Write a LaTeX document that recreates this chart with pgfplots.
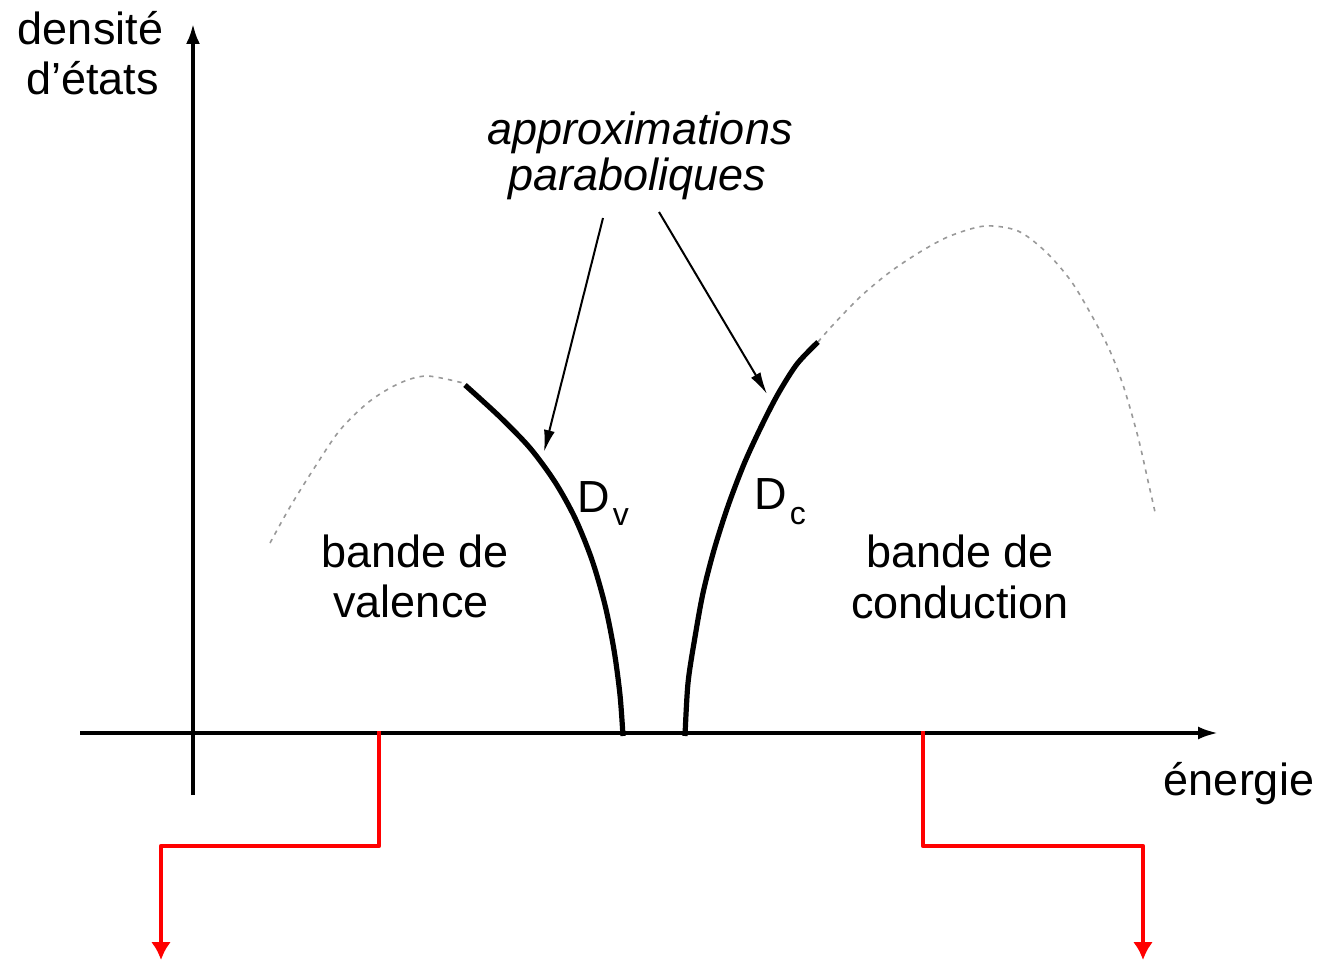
\documentclass[border=0pt]{standalone}
\usepackage{fontspec}
\setmainfont{Liberation Sans}
\usepackage{pgfplots}
\pgfplotsset{compat=1.18}
\usetikzlibrary{arrows.meta}
\tikzset{lbl/.style={font=\fontsize{22.5}{25}\selectfont,inner sep=0pt}}
\begin{document}
\begin{tikzpicture}
\begin{axis}[x=0.5pt,y=0.5pt,xmin=0,xmax=1323,ymin=0,ymax=962,
  y dir=reverse,hide axis,clip=false,scale only axis]
\path (axis cs:0,0) rectangle (axis cs:1323,962);
% axes
\addplot[black,line width=1.7pt,-{Latex[length=10pt,width=6.5pt]}] coordinates {(80,733) (1218,733)};
\addplot[black,line width=1.7pt,-{Latex[length=10pt,width=7pt]}] coordinates {(193,795) (193,24)};
% dotted full bands
\addplot[gray!80,line width=0.8pt,dash pattern=on 2.2pt off 2.6pt,smooth] coordinates {
(270,543) (290,507) (313,470) (340,430) (370,401) (400,383) (427,376) (463,383)};
\addplot[gray!80,line width=0.8pt,dash pattern=on 2.2pt off 2.6pt,smooth] coordinates {
(818,342) (832,326) (860,297) (890,272) (920,252) (950,236) (985,226) (1018,231) (1046,252) (1071,281) (1092,316) (1110,351) (1124,388) (1138,437) (1148,481) (1155,512)};
% parabolic approximations
\addplot[black,line width=2.6pt,smooth] coordinates {
(465,385) (500,417) (530,448) (555,482) (575,518) (592,560) (605,605) (614,650) (620,695) (623,736)};
\addplot[black,line width=2.6pt,smooth] coordinates {
(685,736) (688,683) (695,637) (703,593) (714,550) (728,506) (744,464) (761,427) (778,394) (797,364) (818,342)};
% pointer arrows
\addplot[black,line width=1pt,-{Latex[length=11pt,width=5.5pt]}] coordinates {(603,218) (544,452)};
\addplot[black,line width=1pt,-{Latex[length=11pt,width=5.5pt]}] coordinates {(659,212) (767,394)};
% red arrows
\addplot[red,line width=2.4pt,line join=round,-{Latex[length=9pt,width=10pt]}] coordinates {(379,731) (379,846) (161,846) (161,960)};
\addplot[red,line width=2.4pt,line join=round,-{Latex[length=9pt,width=10pt]}] coordinates {(923,731) (923,846) (1143,846) (1143,960)};
% texts
\node[lbl,anchor=base] at (axis cs:90.5,45) {densité};
\node[lbl,anchor=base] at (axis cs:92.5,95) {d'états};
\node[lbl,anchor=base] at (axis cs:640,145) {\itshape approximations};
\node[lbl,anchor=base] at (axis cs:637,191) {\itshape paraboliques};
\node[lbl,anchor=base] at (axis cs:415,567) {bande de};
\node[lbl,anchor=base] at (axis cs:411,617) {valence};
\node[lbl,anchor=base] at (axis cs:960,567) {bande de};
\node[lbl,anchor=base] at (axis cs:960,618) {conduction};
\node[lbl,anchor=base] at (axis cs:1239,795) {énergie};
\node[lbl,anchor=base west] at (axis cs:577,512) {D\hspace{1.5pt}\raisebox{-6.5pt}{\fontsize{16}{16}\selectfont v}};
\node[lbl,anchor=base west] at (axis cs:754,509) {D\hspace{1.5pt}\raisebox{-7.5pt}{\fontsize{16}{16}\selectfont c}};
\end{axis}
\end{tikzpicture}
\end{document}
